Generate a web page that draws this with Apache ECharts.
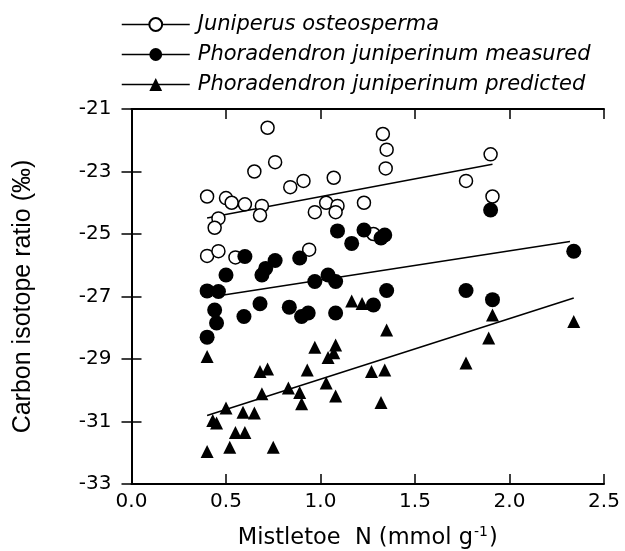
<!DOCTYPE html>
<html><head><meta charset="utf-8">
<script src="https://cdn.jsdelivr.net/npm/echarts@6/dist/echarts.min.js"></script>
<style>html,body{margin:0;padding:0;background:#fff}#c{width:625px;height:551px}</style>
</head><body><div id="c"></div>
<script>
const seriesNames = ['Juniperus osteosperma', 'Phoradendron juniperinum measured', 'Phoradendron juniperinum predicted'];

// Juniperus osteosperma (open circles)
const junX = [0.72, 0.76, 0.65, 0.84, 0.91, 1.07, 0.40, 0.50, 0.53, 0.60, 0.69, 0.68, 0.97, 1.03, 1.09, 1.08, 0.46, 0.44, 1.23, 0.40, 0.46, 0.55, 0.94, 1.33, 1.35, 1.345, 1.90, 1.77, 1.91, 1.28];
const junY = [-21.6, -22.7, -23.0, -23.5, -23.3, -23.2, -23.8, -23.85, -24.0, -24.05, -24.1, -24.4, -24.3, -24.0, -24.1, -24.3, -24.5, -24.8, -24.0, -25.7, -25.55, -25.75, -25.5, -21.8, -22.3, -22.9, -22.45, -23.3, -23.8, -25.0];

// Phoradendron juniperinum measured (filled circles)
const measX = [1.09, 1.165, 1.23, 1.34, 1.32, 1.90, 2.34, 0.60, 0.76, 0.89, 0.71, 0.69, 0.50, 0.97, 1.04, 1.08, 0.40, 0.46, 0.44, 0.45, 0.40, 0.595, 0.68, 0.835, 0.90, 0.935, 1.08, 1.35, 1.28, 1.77, 1.91];
const measY = [-24.9, -25.3, -24.87, -25.03, -25.13, -24.23, -25.55, -25.72, -25.85, -25.77, -26.1, -26.31, -26.31, -26.52, -26.31, -26.52, -26.82, -26.84, -27.43, -27.85, -28.3, -27.64, -27.23, -27.34, -27.64, -27.53, -27.53, -26.81, -27.27, -26.81, -27.1];

// Phoradendron juniperinum predicted (filled triangles)
const predX = [0.40, 1.165, 1.22, 0.97, 1.08, 1.04, 1.07, 0.68, 0.72, 0.93, 0.69, 0.83, 0.89, 0.90, 1.03, 1.08, 0.50, 0.59, 0.65, 0.43, 0.45, 0.55, 0.60, 0.40, 0.52, 0.75, 1.35, 1.91, 1.89, 2.34, 1.77, 1.27, 1.34, 1.32];
const predY = [-28.92, -27.14, -27.22, -28.62, -28.55, -28.95, -28.8, -29.4, -29.32, -29.35, -30.11, -29.93, -30.07, -30.43, -29.77, -30.18, -30.57, -30.7, -30.73, -30.97, -31.05, -31.35, -31.35, -31.96, -31.82, -31.82, -28.07, -27.59, -28.33, -27.8, -29.13, -29.4, -29.35, -30.39];

// Regression line endpoints
const junFitX = [0.40, 1.91];
const junFitY = [-24.49, -22.77];
const measFitX = [0.47, 2.32];
const measFitY = [-26.97, -25.24];
const predFitX = [0.40, 2.34];
const predFitY = [-30.81, -27.05];

const yTickValues = [-33, -31, -29, -27, -25, -23, -21];

const pair = (xs, ys) => xs.map((x, i) => [x, ys[i]]);
const FONT = 'DejaVu Sans';

const chart = echarts.init(document.getElementById('c'), null, {renderer: 'canvas'});

function fitSeries(name, xs, ys, sym) {
  return {
    name: name, type: 'line', data: pair(xs, ys),
    symbol: sym, showSymbol: false, symbolSize: 12,
    lineStyle: {color: '#000', width: 1.5},
    itemStyle: {color: '#000'},
    silent: true, z: 2
  };
}

const frameLine = {show: true, lineStyle: {color: '#000', width: 2}};
const frameTick = {show: true, inside: true, length: 10, lineStyle: {color: '#000', width: 1.5}};

chart.setOption({
  animation: false,
  backgroundColor: '#fff',
  grid: {left: 131.5, right: 21, top: 109, bottom: 67, containLabel: false, outerBoundsMode: 'none'},
  legend: {
    orient: 'vertical', left: 121, top: 14, padding: 0,
    itemWidth: 68, itemHeight: 16, itemGap: 9,
    data: seriesNames,
    lineStyle: {width: 1.5},
    textStyle: {fontFamily: FONT, fontStyle: 'italic', fontSize: 21, color: '#000', padding: [0, 0, 0, 3], lineHeight: 21}
  },
  xAxis: [{
    type: 'value', min: 0, max: 2.5, interval: 0.5, position: 'bottom',
    axisLine: frameLine,
    axisTick: frameTick,
    axisLabel: {fontFamily: FONT, fontSize: 20, color: '#000', margin: 8, formatter: v => v.toFixed(1)},
    splitLine: {show: false},
    name: '{a|Mistletoe  N (mmol g}{s|-1}{a|)}',
    nameLocation: 'middle', nameGap: 41,
    nameTextStyle: {
      rich: {
        a: {fontFamily: FONT, fontSize: 22.5, color: '#000', lineHeight: 26},
        s: {fontFamily: FONT, fontSize: 14, color: '#000', verticalAlign: 'top', lineHeight: 26, padding: [0, 1, 15, 1]}
      }
    }
  }, {
    type: 'value', min: 0, max: 2.5, interval: 0.5, position: 'top',
    axisLine: frameLine,
    axisTick: frameTick,
    axisLabel: {show: false},
    splitLine: {show: false}
  }],
  yAxis: [{
    type: 'value', min: -33, max: -21, position: 'left',
    axisLine: frameLine,
    axisTick: Object.assign({customValues: yTickValues}, frameTick),
    axisLabel: {fontFamily: FONT, fontSize: 20, color: '#000', margin: 20, customValues: yTickValues},
    splitLine: {show: false},
    name: 'Carbon isotope ratio (‰)',
    nameLocation: 'middle', nameGap: 96, nameRotate: 90,
    nameTextStyle: {fontFamily: 'Liberation Sans', fontSize: 25, color: '#000'}
  }, {
    type: 'value', min: -33, max: -21, position: 'right',
    axisLine: frameLine,
    axisTick: Object.assign({customValues: yTickValues}, frameTick),
    axisLabel: {show: false},
    splitLine: {show: false}
  }],
  series: [
    fitSeries(seriesNames[0], junFitX, junFitY, 'emptyCircle'),
    fitSeries(seriesNames[1], measFitX, measFitY, 'circle'),
    fitSeries(seriesNames[2], predFitX, predFitY, 'triangle'),
    {
      name: 'jun-points', type: 'scatter', data: pair(junX, junY),
      symbol: 'circle', symbolSize: 13,
      itemStyle: {color: '#fff', borderColor: '#000', borderWidth: 1.5, opacity: 1}, z: 3
    },
    {
      name: 'meas-points', type: 'scatter', data: pair(measX, measY),
      symbol: 'circle', symbolSize: 15,
      itemStyle: {color: '#000', opacity: 1}, z: 4
    },
    {
      name: 'pred-points', type: 'scatter', data: pair(predX, predY),
      symbol: 'triangle', symbolSize: 13,
      itemStyle: {color: '#000', opacity: 1}, z: 5
    }
  ]
});
</script>
</body></html>
